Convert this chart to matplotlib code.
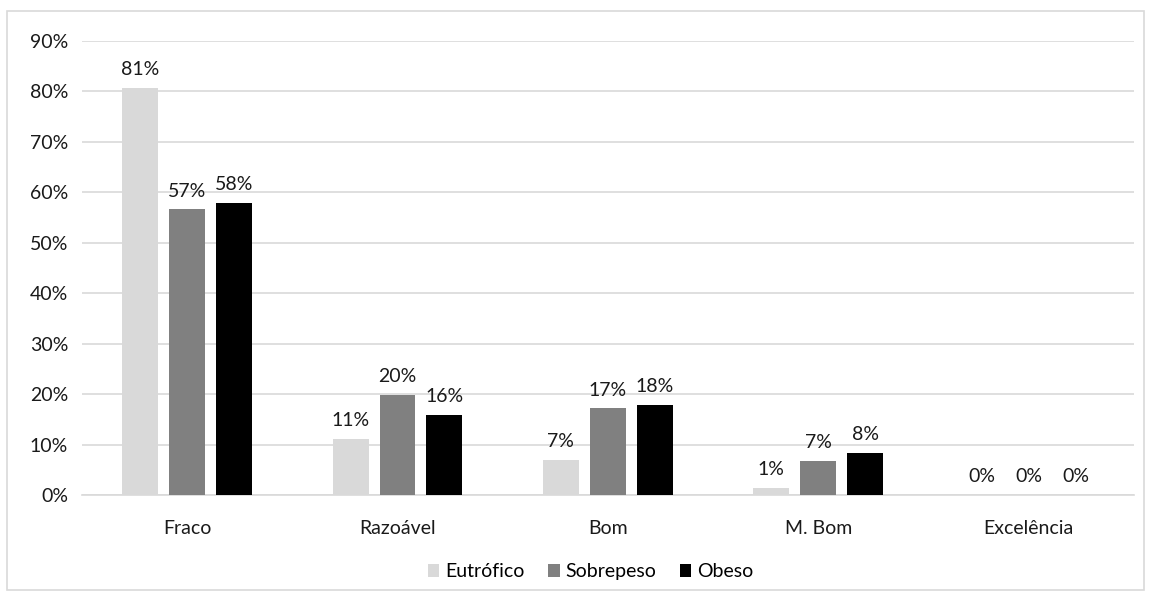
import numpy as np
import matplotlib.pyplot as plt
from matplotlib.patches import Rectangle

# Classificação por estado nutricional (fração de cada grupo)
categorias = ["Fraco", "Razoável", "Bom", "M. Bom", "Excelência"]
eutrofico = [0.807, 0.111, 0.069, 0.014, 0.0]
sobrepeso = [0.566, 0.198, 0.172, 0.067, 0.0]
obeso = [0.579, 0.159, 0.179, 0.084, 0.0]
grupos = ["Eutrófico", "Sobrepeso", "Obeso"]
cores = ["#d9d9d9", "#808080", "#000000"]

plt.rcParams['font.family'] = ['Lato', 'DejaVu Sans']
fs = 14

fig = plt.figure(figsize=(11.51, 6.0), dpi=100)
ax = fig.add_axes([0.0712, 0.175, 0.9138, 0.7567])

# moldura externa cinza
fig.patches.append(Rectangle((0.006, 0.017), 0.988, 0.965, transform=fig.transFigure,
                             fill=False, edgecolor="#d9d9d9", linewidth=1.2))

x = np.arange(len(categorias))
largura = 0.171
passo = 0.223
for i, (serie, nome, cor) in enumerate(zip([eutrofico, sobrepeso, obeso], grupos, cores)):
    pos = x + (i - 1) * passo
    barras = ax.bar(pos, serie, largura, color=cor, label=nome, zorder=3)
    for b, v in zip(barras, serie):
        ax.annotate(f"{v:.0%}", (b.get_x() + b.get_width() / 2, v),
                    xytext=(0, 7), textcoords="offset points",
                    ha="center", va="bottom", fontsize=fs, color="#1a1a1a")

ax.set_xlim(-0.5, len(categorias) - 0.5)
ax.set_ylim(0, 0.9)
ax.set_yticks(np.arange(0, 0.91, 0.1))
ax.set_yticklabels([f"{int(round(t * 100))}%" for t in np.arange(0, 0.91, 0.1)])
ax.set_xticks(x)
ax.set_xticklabels(categorias)
ax.tick_params(axis="both", length=0, labelsize=fs, colors="#1a1a1a")
ax.tick_params(axis="x", pad=18)
ax.tick_params(axis="y", pad=10)
ax.grid(axis="y", color="#d9d9d9", linewidth=1.2, zorder=0)
for lado in ["top", "right", "left"]:
    ax.spines[lado].set_visible(False)
ax.spines["bottom"].set_color("#d9d9d9")
ax.spines["bottom"].set_linewidth(1.2)

fig.legend(loc="center", bbox_to_anchor=(0.513, 0.047), ncol=3, frameon=False,
           fontsize=fs, handlelength=0.6, handleheight=0.6, handletextpad=0.3,
           columnspacing=1.2)

fig.savefig("out.png", dpi=100)
